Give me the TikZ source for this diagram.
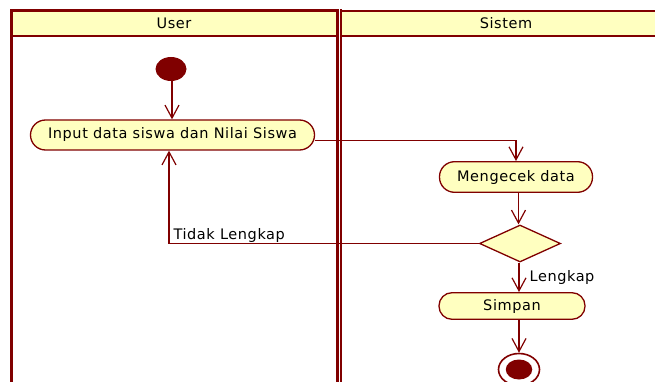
\documentclass[tikz,border=0pt]{standalone}
\usepackage{fontspec}
\newfontfamily\umlfont{DejaVu Sans}[LetterSpace=4]
\usetikzlibrary{shapes.geometric,arrows.meta}

\definecolor{umlred}{RGB}{128,0,0}
\definecolor{umlfill}{RGB}{255,255,192}

\begin{document}
\begin{tikzpicture}[x=1pt,y=-1pt,
  every node/.style={font=\umlfont\fontsize{14.5}{17}\selectfont, text=black},
  lane/.style={draw=umlred, line width=3pt},
  lanehead/.style={draw=umlred, fill=umlfill, line width=2pt},
  action/.style={draw=umlred, fill=umlfill, line width=1.3pt, inner sep=0pt},
  decision/.style={draw=umlred, fill=umlfill, line width=1.3pt, shape=diamond, inner sep=0pt,
    minimum width=81pt, minimum height=37pt},
  flow/.style={draw=umlred, line width=1.2pt, -{Straight Barb[length=13pt,width=14pt]}},
  label/.style={inner sep=0pt}
]
\useasboundingbox (0,0) rectangle (655,382);
\clip (0,0) rectangle (655,382);

% swimlanes
\fill[umlfill] (11,11) rectangle (337.5,36);
\fill[umlfill] (341,11) rectangle (671,36);
\draw[lanehead] (11,36) -- (337.5,36);
\draw[lanehead] (341,36) -- (671,36);
\draw[lane] (11,400) -- (11,11) -- (337.5,11) -- (337.5,400);
\draw[draw=umlred, line width=2.2pt] (341,400) -- (341,11) -- (671,11);
\draw[umlred, line width=3pt] (340,11) -- (342,11);
\node (userhead) at (174,23.5) {User};
\node (sistemhead) at (506,23.5) {Sistem};

% activity nodes
\node[shape=ellipse, fill=umlred, inner sep=0pt, minimum width=31pt, minimum height=24pt] (start) at (171,69) {};
\node[action, rounded corners=15pt, minimum width=284pt, minimum height=30pt] (input) at (172.5,135) {Input data siswa dan Nilai Siswa};
\node[action, rounded corners=15pt, minimum width=153pt, minimum height=30.6pt] (cek) at (516,177) {Mengecek data};
\node[decision] (dec) at (520,243.5) {};
\node[action, rounded corners=13pt, minimum width=146pt, minimum height=26.6pt] (simpan) at (512,306) {Simpan};
\node[shape=ellipse, draw=umlred, fill=white, line width=1.6pt, inner sep=0pt, minimum width=41pt, minimum height=32pt] (end) at (519,369.5) {};
\node[shape=ellipse, fill=umlred, inner sep=0pt, minimum width=26.5pt, minimum height=20pt] (endcore) at (end.center) {};

% control flows
\draw[flow] (start.south -| 172,0) -- (input.north -| 172,0);
\draw[flow] ([yshift=-5.5pt]input.east) -| (cek.north);
\draw[flow] (cek.south -| dec.north) ++(-1.5,0) -- ([xshift=-1.5pt]dec.north);
\draw[flow] (dec.west) -| node[label, pos=0.5, anchor=base west, xshift=4pt, yshift=4.5pt] (tidak) {Tidak Lengkap} ([xshift=-3.5pt]input.south);
\draw[flow] ([xshift=-1pt]dec.south) -- node[label, anchor=west, xshift=10pt] (lengkap) {Lengkap} ([xshift=-1pt]dec.south |- simpan.north);
\draw[flow] (end.north |- simpan.south) -- (end.north);
\end{tikzpicture}
\end{document}
